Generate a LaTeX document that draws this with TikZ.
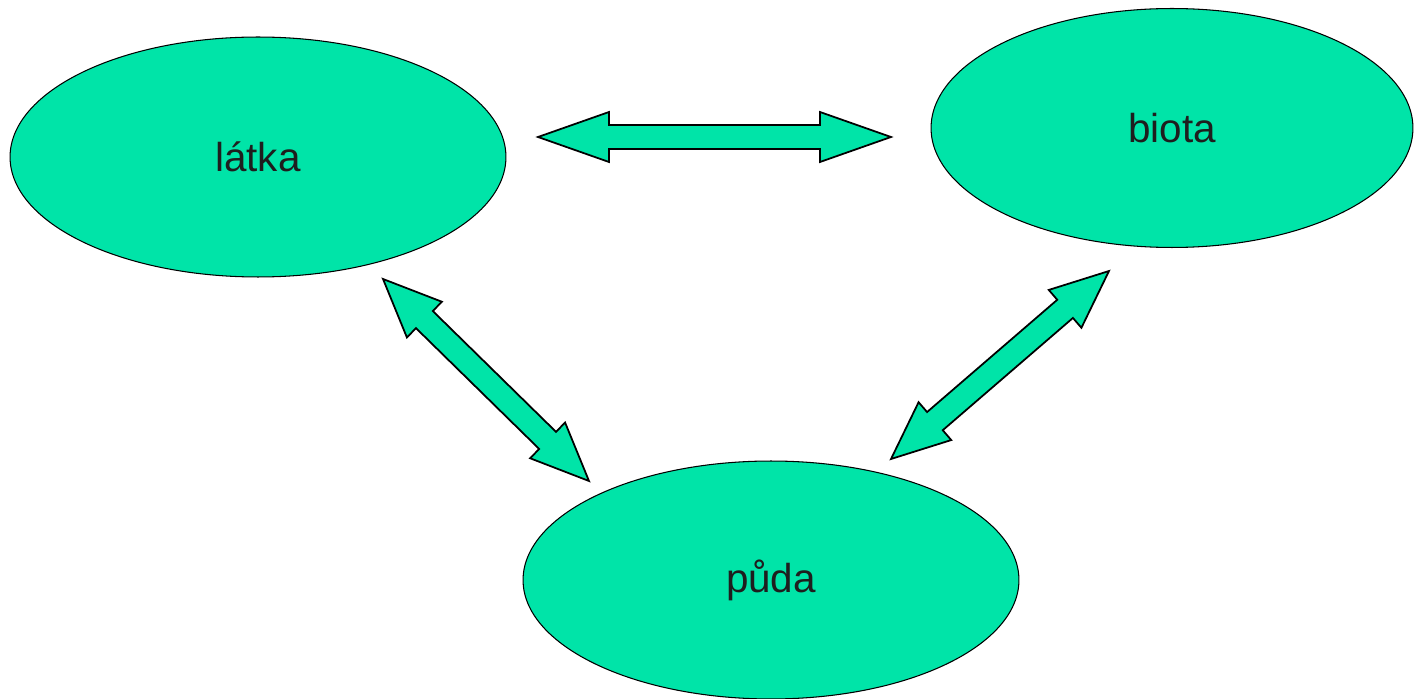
\documentclass[tikz,border=0pt]{standalone}
\usepackage{fontspec}
\setmainfont{Liberation Sans}
\usetikzlibrary{shapes.geometric, calc}

\definecolor{blobgreen}{RGB}{0,228,168}
\definecolor{labelgray}{RGB}{30,30,30}

% block arrow with a head at both ends, between two named points
\newcommand{\headw}{0.5cm}
\newcommand{\shaftw}{0.24cm}
\newcommand{\dblarrow}[3][1.16cm]{%
  \path ($(#2)!#1!(#3)$) coordinate (ha) ($(#3)!#1!(#2)$) coordinate (hb);
  \draw[blockarrow] (#2) -- ($(ha)!\headw!90:(#3)$) -- ($(ha)!\shaftw!90:(#3)$)
    -- ($(hb)!\shaftw!-90:(#2)$) -- ($(hb)!\headw!-90:(#2)$) -- (#3)
    -- ($(hb)!\headw!90:(#2)$) -- ($(hb)!\shaftw!90:(#2)$)
    -- ($(ha)!\shaftw!-90:(#3)$) -- ($(ha)!\headw!-90:(#3)$) -- cycle;}

\begin{document}
\begin{tikzpicture}[x=0.02cm, y=-0.02cm,
    blob/.style={ellipse, draw=black, line width=0.6pt, fill=blobgreen,
                 inner sep=0pt, text=labelgray,
                 font=\fontsize{23}{27}\selectfont},
    blockarrow/.style={draw=black, line width=1pt, fill=blobgreen, line join=miter}]
    \useasboundingbox (0,0) rectangle (1414,699);
    \node[blob, minimum width=9.92cm, minimum height=4.8cm] (latka) at (258,157) {látka};
    \node[blob, minimum width=9.64cm, minimum height=4.78cm] (biota) at (1172,128) {biota};
    \node[blob, minimum width=9.92cm, minimum height=4.76cm] (puda) at (771,580) {půda};
    % arrow ends
    \coordinate (lb1) at (538,137);  \coordinate (lb2) at (891,137);
    \coordinate (lp1) at (383,279);  \coordinate (lp2) at (589,481);
    \coordinate (pb1) at (891,459);  \coordinate (pb2) at (1109,271);
    \dblarrow[1.42cm]{lb1}{lb2}
    \dblarrow{lp1}{lp2}
    \dblarrow{pb1}{pb2}
  \end{tikzpicture}
\end{document}
